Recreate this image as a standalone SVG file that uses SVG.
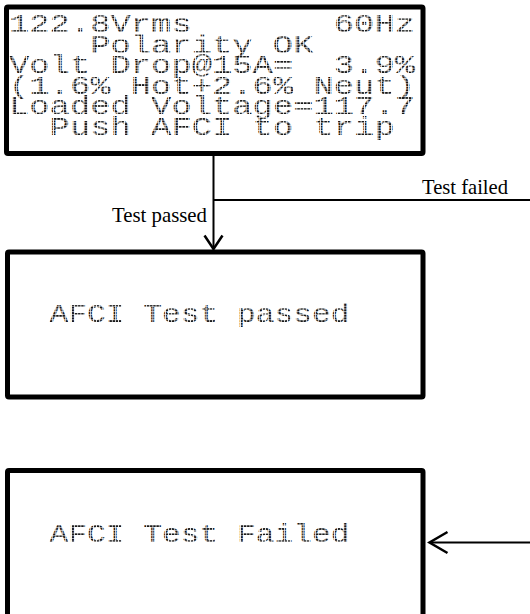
<svg xmlns="http://www.w3.org/2000/svg" width="530" height="614" viewBox="0 0 530 614">
  <defs>
    <!-- dot grid that gives the LCD characters their matrix look -->
    <pattern id="dotsA" patternUnits="userSpaceOnUse" x="10" y="14" width="3.38" height="2.6">
      <rect width="2.6" height="2.0" fill="#1a1a1a"/>
    </pattern>
    <pattern id="dotsB" patternUnits="userSpaceOnUse" x="50" y="304" width="3.13" height="2.7">
      <rect width="2.4" height="2.1" fill="#1a1a1a"/>
    </pattern>
  </defs>
  <style>
    .box { fill: #ffffff; stroke: #000000; stroke-width: 5; stroke-linejoin: round; }
    .lcd { font-family: "Liberation Mono", "DejaVu Sans Mono", monospace; font-size: 26px; }
    .lcdA { fill: url(#dotsA); }
    .lcdB { fill: url(#dotsB); }
    .lbl { font-family: "Liberation Serif", "Times New Roman", serif; font-size: 21px; fill: #000000; }
    .wire { fill: none; stroke: #000000; stroke-width: 2; }
    .head { fill: none; stroke: #000000; stroke-width: 2.5; stroke-linejoin: miter; }
  </style>

  <rect width="530" height="614" fill="#ffffff"/>

  <!-- LCD readout before the trip test (20 character cells, 20.3 px pitch) -->
  <g id="readout">
    <rect class="box" x="6.5" y="7" width="416.5" height="146.5" rx="1.5"/>
    <text class="lcd lcdA" x="9" y="32" textLength="182.7" lengthAdjust="spacingAndGlyphs">122.8Vrms</text>
    <text class="lcd lcdA" x="333.8" y="32" textLength="81.2" lengthAdjust="spacingAndGlyphs">60Hz</text>
    <text class="lcd lcdA" x="90.2" y="52.6" textLength="223.3" lengthAdjust="spacingAndGlyphs">Polarity OK</text>
    <text class="lcd lcdA" x="9" y="73.2" textLength="284.2" lengthAdjust="spacingAndGlyphs">Volt Drop@15A=</text>
    <text class="lcd lcdA" x="333.8" y="73.2" textLength="81.2" lengthAdjust="spacingAndGlyphs">3.9%</text>
    <text class="lcd lcdA" x="9" y="93.8" textLength="406" lengthAdjust="spacingAndGlyphs">(1.6% Hot+2.6% Neut)</text>
    <text class="lcd lcdA" x="9" y="114.4" textLength="406" lengthAdjust="spacingAndGlyphs">Loaded Voltage=117.7</text>
    <text class="lcd lcdA" x="49.6" y="135" textLength="345.1" lengthAdjust="spacingAndGlyphs">Push AFCI to trip</text>
  </g>

  <!-- Result screen: pass -->
  <g id="passed">
    <rect class="box" x="7.5" y="252" width="415.5" height="145" rx="1.5"/>
    <text class="lcd lcdB" x="49.5" y="322" textLength="300" lengthAdjust="spacingAndGlyphs">AFCI Test passed</text>
  </g>

  <!-- Result screen: fail -->
  <g id="failed">
    <rect class="box" x="7.5" y="470.5" width="415.5" height="152" rx="1.5"/>
    <text class="lcd lcdB" x="49.5" y="542" textLength="300" lengthAdjust="spacingAndGlyphs">AFCI Test Failed</text>
  </g>

  <!-- Connectors -->
  <g id="connectors">
    <path class="wire" d="M213.5,156 V249"/>
    <path class="wire" d="M213.5,200 H530" stroke-width="1.6"/>
    <path class="head" d="M204.5,235.5 L213.5,249 L222.5,235.5"/>
    <path class="wire" d="M530,542.5 H430"/>
    <path class="head" d="M447.5,532 L429.5,542.5 L447.5,553"/>
    <text class="lbl" x="422" y="194" textLength="86" lengthAdjust="spacingAndGlyphs">Test failed</text>
    <text class="lbl" x="112" y="221.5" textLength="95" lengthAdjust="spacingAndGlyphs">Test passed</text>
  </g>
</svg>
